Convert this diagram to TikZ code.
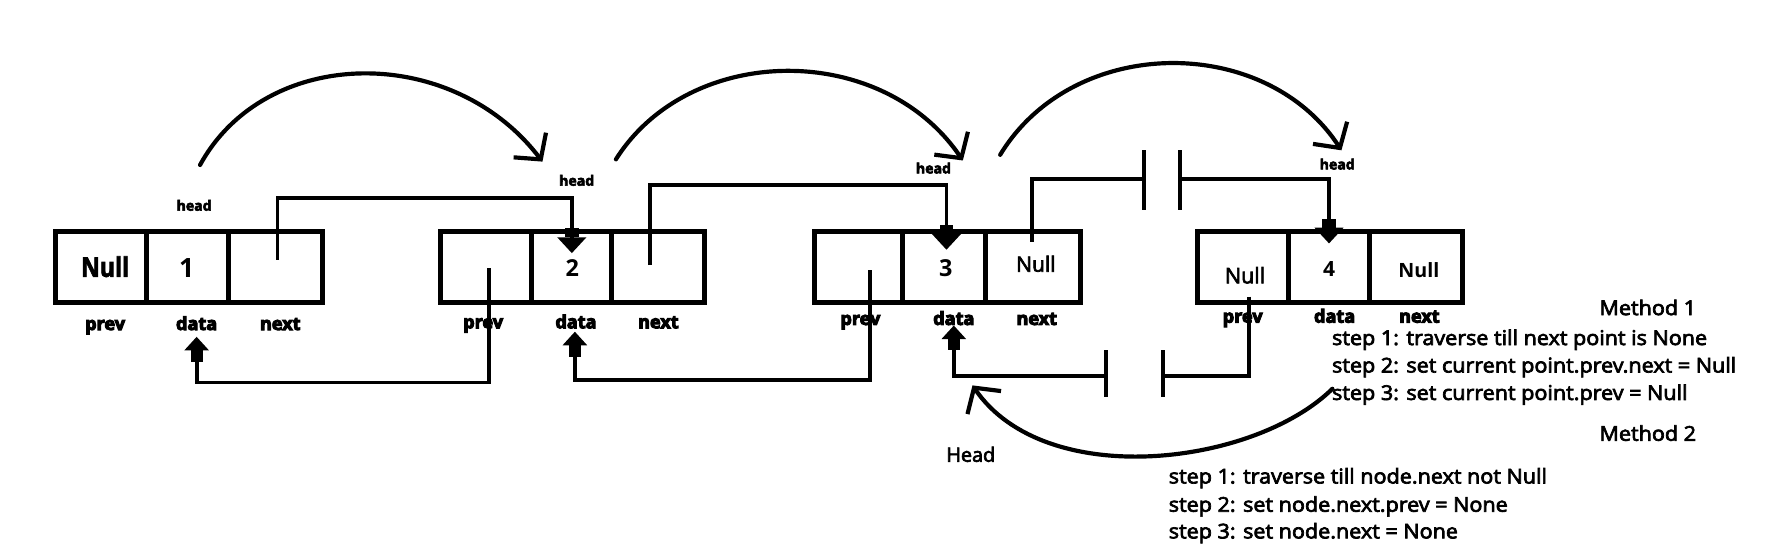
\documentclass[tikz,border=0pt]{standalone}
\usepackage{fontspec}
\setmainfont{Open Sans}
\newfontfamily\semib{Open Sans}
\newfontfamily\heavy{Open Sans Bold}
\usetikzlibrary{arrows.meta,calc}
\begin{document}
\begin{tikzpicture}[x=1pt,y=-1pt,
  embold/.style={execute at begin node={\special{pdf:literal direct 2 Tr #1 w}},
                 execute at end node={\special{pdf:literal direct 0 Tr 1 w}}},
  cell/.style={draw, line width=4.4pt, minimum height=63pt, inner sep=0pt, outer sep=0pt},
  conn/.style={line width=3.3pt},
  fatdown/.style={-{Rectangle[width=12pt,length=8pt,sep=0pt]Triangle[width=25pt,length=14pt]}},
  fatup/.style={-{Rectangle[width=10.5pt,length=10pt,sep=0pt]Triangle[width=21pt,length=12pt]}},
  arcarrow/.style={line width=3.7pt, line cap=round, -{Straight Barb[length=16pt,width=36pt]}},
  bar/.style={line width=3.6pt},
  big/.style={inner sep=0pt, anchor=base, font=\bfseries\fontsize{#1}{#1}\selectfont},
  mid/.style={inner sep=0pt, anchor=base, embold=0.6, font=\semib\fontsize{#1}{#1}\selectfont},
  lbl/.style={inner sep=0pt, anchor=base, embold=0.9, font=\heavy\fontsize{16}{16}\selectfont},
  hd/.style={inner sep=0pt, anchor=base, embold=0.5, font=\heavy\fontsize{12.5}{12.5}\selectfont},
  txt/.style={inner sep=0pt, anchor=base west, xscale=1.06, embold=0.6, font=\semib\fontsize{18}{18}\selectfont},
  ttl/.style={inner sep=0pt, anchor=base east, xscale=1.06, embold=0.6, font=\semib\fontsize{18}{18}\selectfont}
]
\fill[white] (0,0) rectangle (1568,488.4);
\useasboundingbox (0,0) rectangle (1568,488.4);

% ---- cells ----
\node[cell, minimum width=81pt] (n1p) at (89.5,236.5) {};
\node[cell, minimum width=72pt] (n1d) at (166,236.5) {};
\node[cell, minimum width=83pt] (n1n) at (243.5,236.5) {};
\node[cell, minimum width=80pt] (n2p) at (430,236.5) {};
\node[cell, minimum width=71pt] (n2d) at (505.5,236.5) {};
\node[cell, minimum width=82pt] (n2n) at (582,236.5) {};
\node[cell, minimum width=78pt] (n3p) at (760,236.5) {};
\node[cell, minimum width=73pt] (n3d) at (835.5,236.5) {};
\node[cell, minimum width=84pt] (n3n) at (914,236.5) {};
\node[cell, minimum width=80pt] (n4p) at (1100,236.5) {};
\node[cell, minimum width=72pt] (n4d) at (1176,236.5) {};
\node[cell, minimum width=82pt] (n4n) at (1253,236.5) {};

% ---- cell texts ----
\node[big=24, xscale=0.85, embold=0.6] (v1p) at (93,245) {Null};
\node[big=23.5] (v1d) at (165.2,245.4) {1};
\node[big=20.7] (v2d) at (506.5,245) {2};
\node[big=20.7] (v3d) at (836.8,245) {3};
\node[mid=18.6] (v3n) at (916.6,240.4) {Null};
\node[mid=19] (v4p) at (1101.7,250.7) {Null};
\node[big=18.6] (v4d) at (1176,244.8) {4};
\node[big=17.4] (v4n) at (1255.5,245.4) {Null};

% ---- field labels ----
\node[lbl] (l1p) at (93,292) {prev};
\node[lbl] (l1d) at (174,292) {data};
\node[lbl] (l1n) at (248,292) {next};
\node[lbl] (l2p) at (427.5,290.5) {prev};
\node[lbl] (l2d) at (509.7,290.5) {data};
\node[lbl] (l2n) at (582.6,290.5) {next};
\node[lbl] (l3p) at (761.3,287.5) {prev};
\node[lbl] (l3d) at (844,287.5) {data};
\node[lbl] (l3n) at (917.4,287.5) {next};
\node[lbl] (l4p) at (1099.6,285.5) {prev};
\node[lbl] (l4d) at (1181,285.5) {data};
\node[lbl] (l4n) at (1256,285.5) {next};

% ---- head labels ----
\node[hd] (h1) at (171.8,186.4) {head};
\node[hd] (h2) at (510.3,164.3) {head};
\node[hd] (h3) at (826,153.4) {head};
\node[hd] (h4) at (1183.3,149.9) {head};

% ---- next links ----
\draw[conn, fatdown] ($(n1n.center)+(2,-6.5)$) |- ($(n2d.north)+(0.5,-29.5)$) -- ($(n2d.north)+(0.5,19)$);
\draw[conn, fatdown] ($(n2n.center)+(-7,-2)$) |- ($(n3d.north)+(2,-41.3)$) -- ($(n3d.north)+(2,16)$);

% ---- prev links ----
\draw[conn, fatup] ($(n2p.center)+(3,1)$) |- ($(n1d.south)+(8,70.5)$) -- ($(n1d.south)+(8,30)$);
\draw[conn, fatup] ($(n3p.center)+(10,2.5)$) |- ($(n2d.south)+(3.2,68)$) -- ($(n2d.south)+(3.2,25.5)$);

% ---- broken links ----
\coordinate (g1) at (1012.5,158.7);
\coordinate (g2) at (1044,158.7);
\coordinate (g3) at (1029.5,332.8);
\coordinate (g4) at (978.5,332.8);
\draw[conn] ($(n3n.center)+(-0.5,-22.5)$) |- (g1);
\draw[conn, fatdown] (g2) -| ($(n4d.north)+(0,10.4)$);
\draw[bar] ($(g1)+(0,-25.8)$) -- ($(g1)+(0,27.2)$);
\draw[bar] ($(g2)+(0,-25.8)$) -- ($(g2)+(0,27.2)$);
\draw[conn] ($(n4p.center)+(5.5,26)$) |- (g3);
\draw[conn, fatup] (g4) -| ($(n3d.south)+(8.5,20)$);
\draw[bar] ($(g3)+(0,-23)$) -- ($(g3)+(0,18.5)$);
\draw[bar] ($(g4)+(0,-23)$) -- ($(g4)+(0,18.5)$);

% ---- curved head-move arrows ----
\coordinate (a1s) at (177,146);   \coordinate (a1e) at (480,143);
\coordinate (a2s) at (545,141);   \coordinate (a2e) at (852,142);
\coordinate (a3s) at (885,137);   \coordinate (a3e) at (1187,133);
\coordinate (a4s) at (1179,344);  \coordinate (a4e) at (860.5,341);
\draw[arcarrow] (a1s) .. controls (235,40) and (400,38) .. (a1e);
\draw[arcarrow] (a2s) .. controls (610,38) and (780,36) .. (a2e);
\draw[arcarrow] (a3s) .. controls (950,30) and (1120,30) .. (a3e);
\draw[arcarrow] (a4s) .. controls (1110,412) and (925,435) .. (a4e);

% ---- text ----
\node[mid=17.5] (headtxt) at (859,408.6) {Head};
\node[ttl] (m1) at (1501,278.8) {Method 1};
\node[txt] (m1s1) at (1178.5,305.3) {step 1: traverse till next point is None};
\node[txt] (m1s2) at (1178.5,329.6) {step 2: set current point.prev.next = Null};
\node[txt] (m1s3) at (1178.5,353.9) {step 3: set current point.prev = Null};
\node[ttl] (m2) at (1501,390) {Method 2};
\node[txt] (m2s1) at (1034,427.8) {step 1: traverse till node.next not Null};
\node[txt] (m2s2) at (1034,452.8) {step 2: set node.next.prev = None};
\node[txt] (m2s3) at (1034,476.4) {step 3: set node.next = None};
\end{tikzpicture}
\end{document}
